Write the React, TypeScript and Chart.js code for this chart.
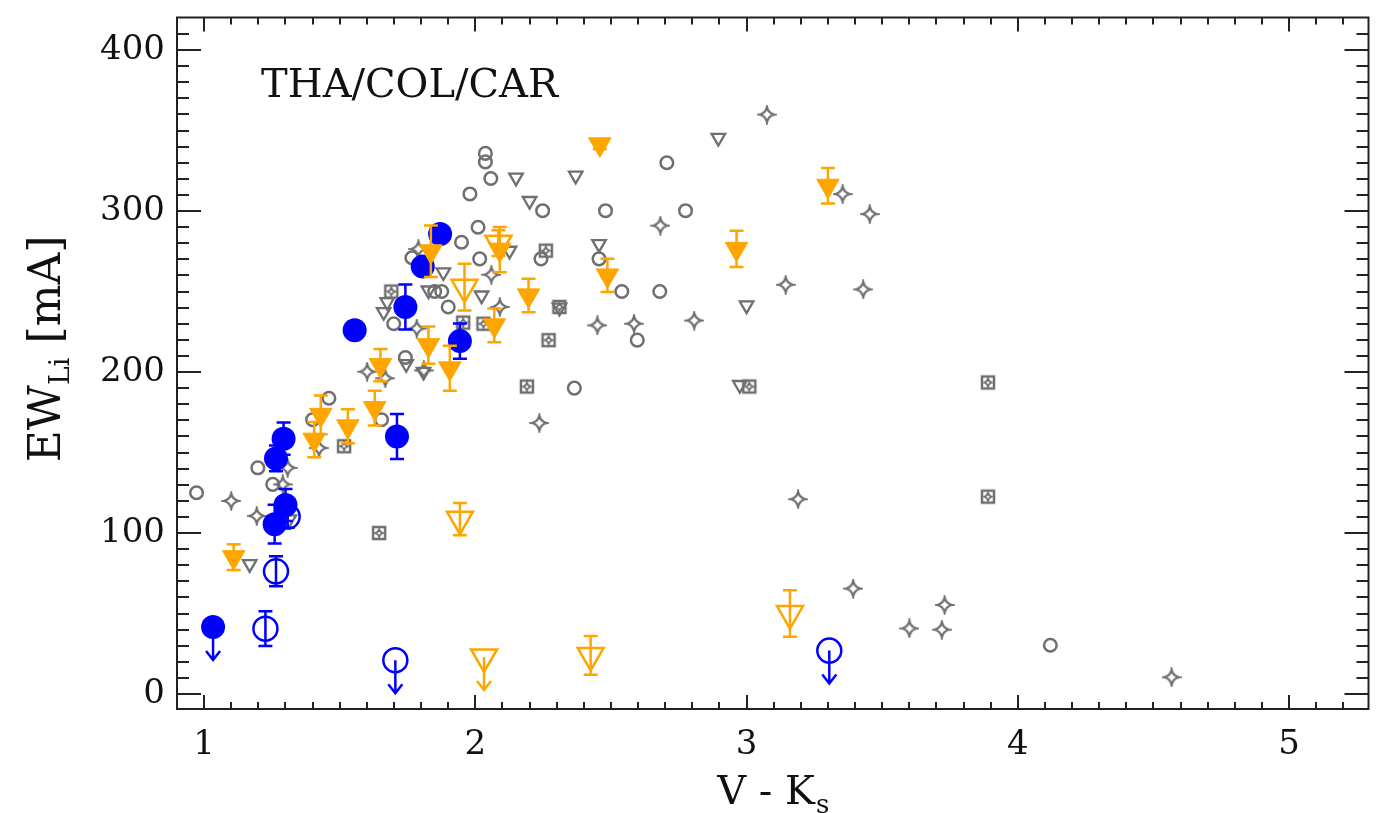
import React, { useEffect, useRef } from "react";
import { Chart, registerables } from "chart.js";

Chart.register(...registerables);

const FONT = '"DejaVu Serif", "Liberation Serif", serif';
const GRAY = "#6f6f6f";
const BLUE = "#0000ff";
const ORANGE = "#ffa500";
const AXIS = "#222222";
const CLEAR = "rgba(0,0,0,0)";

// ---- axes / labels ----
const xTickValues = [1, 2, 3, 4, 5];
const yTickValues = [0, 100, 200, 300, 400];
const xTitleMain = "V - K";
const xTitleSub = "s";
const yTitleMain = "EW";
const yTitleSub = "Li";
const yTitleRest = " [mA]";
const panelLabel = "THA/COL/CAR";

// ---- blue filled circles ----
const blueFilledX = [1.033, 1.265, 1.293, 1.300, 1.260, 1.555, 1.742, 1.711, 1.943, 1.806, 1.870];
const blueFilledY = [41.6, 146.3, 158.6, 117.4, 105.5, 226.0, 240.4, 160.0, 219.2, 265.5, 285.7];
const blueFilledErr = [0, 8, 10, 10, 12, 0, 14, 14, 11, 0, 0];
const blueFilledLimit = [1, 0, 0, 0, 0, 0, 0, 0, 0, 0, 0];

// ---- blue open circles ----
const blueOpenX = [1.226, 1.265, 1.308, 1.705, 3.305];
const blueOpenY = [40.6, 76.2, 110.2, 21.0, 27.0];
const blueOpenErr = [10.8, 9.3, 7, 0, 0];
const blueOpenLimit = [0, 0, 0, 1, 1];

// ---- orange filled triangles ----
const orangeFilledX = [1.109, 1.406, 1.430, 1.530, 1.629, 1.650, 1.827, 1.836, 1.906, 2.070, 2.090, 2.196, 2.459, 2.487, 2.963, 3.300];
const orangeFilledY = [85, 158, 173.4, 166.3, 177.6, 204.3, 216.7, 275, 202.3, 229, 276, 247.6, 341.4, 260, 276.5, 315.7];
const orangeFilledErr = [8, 11, 12, 10.6, 10.8, 10, 11.5, 16, 14, 10.5, 14, 10.4, 3, 10.3, 11.3, 11];

// ---- orange open triangles ----
const orangeOpenX = [1.943, 1.960, 2.085, 2.032, 2.425, 3.160];
const orangeOpenY = [108.6, 252.7, 280, 23, 24, 50];
const orangeOpenErr = [10, 14.5, 8, 0, 12, 14.5];
const orangeOpenLimit = [0, 0, 0, 1, 0, 0];

// ---- gray open circles ----
const grayCircleX = [0.972, 1.198, 1.253, 1.400, 1.460, 1.654, 1.742, 1.699, 1.766, 1.850, 1.876, 1.900, 1.870, 1.949, 1.980, 2.010, 2.016, 2.037, 2.037, 2.057, 2.242, 2.248, 2.365, 2.456, 2.480, 2.540, 2.597, 2.680, 2.706, 2.775, 4.120];
const grayCircleY = [125, 140.5, 130.2, 170.4, 183.7, 170.4, 209, 230, 271, 250, 250, 240.4, 288, 280.6, 310.6, 289.9, 270.3, 335.8, 330.5, 320.2, 270.3, 300.2, 190, 270.3, 300.2, 250, 219.8, 250, 330, 300.2, 30.3];

// ---- gray open down triangles ----
const grayTriX = [1.168, 1.314, 1.662, 1.675, 1.745, 1.809, 1.827, 1.882, 2.023, 2.126, 2.150, 2.200, 2.310, 2.370, 2.456, 2.896, 2.975, 3.000];
const grayTriY = [80.7, 108.6, 237.3, 243.5, 205, 200.2, 250.7, 262, 247.6, 275.4, 320.8, 306.3, 240, 322, 279.5, 345.5, 192, 241.4];

// ---- gray four-point stars ----
const grayStarX = [1.100, 1.194, 1.290, 1.308, 1.424, 1.601, 1.668, 1.784, 1.790, 1.810, 2.059, 2.090, 2.236, 2.450, 2.585, 2.682, 2.807, 3.075, 3.144, 3.190, 3.354, 3.393, 3.430, 3.454, 3.600, 3.720, 3.730, 4.567];
const grayStarY = [119.9, 110.6, 130.2, 140.5, 152.8, 200.2, 196.1, 227, 276.4, 201, 260.4, 240.4, 168.3, 229, 230, 290.9, 232, 359.9, 254.2, 121, 310.5, 65.5, 251.3, 298.1, 40.7, 40, 55.3, 10.4];

// ---- gray boxed symbols ----
const grayBoxX = [1.516, 1.645, 1.690, 1.955, 2.030, 2.190, 2.260, 2.270, 2.310, 3.010, 3.890, 3.890];
const grayBoxY = [153.9, 100, 250, 230.7, 230, 191, 275.4, 219.8, 240.4, 191, 193.5, 122.6];

// label anchor (data coordinates)
const panelLabelX = 1.21;
const panelLabelY = 371;

function makeStar(): HTMLCanvasElement {
  const size = 20;
  const c = document.createElement("canvas");
  c.width = size;
  c.height = size;
  const g = c.getContext("2d")!;
  const m = size / 2;
  const r = 7.5;
  const k = r * 0.18;
  g.strokeStyle = GRAY;
  g.lineWidth = 2.3;
  g.beginPath();
  g.moveTo(m, m - r);
  g.quadraticCurveTo(m + k, m - k, m + r, m);
  g.quadraticCurveTo(m + k, m + k, m, m + r);
  g.quadraticCurveTo(m - k, m + k, m - r, m);
  g.quadraticCurveTo(m - k, m - k, m, m - r);
  g.closePath();
  g.stroke();
  return c;
}

function makeBox(): HTMLCanvasElement {
  const size = 18;
  const c = document.createElement("canvas");
  c.width = size;
  c.height = size;
  const g = c.getContext("2d")!;
  const m = size / 2;
  g.strokeStyle = GRAY;
  g.lineWidth = 2.5;
  g.strokeRect(m - 6, m - 6, 12, 12);
  const r = 4;
  const k = 0.8;
  g.lineWidth = 1.7;
  g.beginPath();
  g.moveTo(m, m - r);
  g.quadraticCurveTo(m + k, m - k, m + r, m);
  g.quadraticCurveTo(m + k, m + k, m, m + r);
  g.quadraticCurveTo(m - k, m + k, m - r, m);
  g.quadraticCurveTo(m - k, m - k, m, m - r);
  g.closePath();
  g.stroke();
  return c;
}

const errorPlugin = {
  id: "errorBars",
  beforeDatasetDraw(chart: any, args: any) {
    const ds: any = chart.data.datasets[args.index];
    if (!ds.errors && !ds.limits) return;
    const ctx = chart.ctx;
    const ys = chart.scales.y;
    ctx.save();
    ctx.strokeStyle = ds.barColor;
    ctx.lineWidth = 2.5;
    ctx.lineCap = "butt";
    args.meta.data.forEach((pt: any, i: number) => {
      const v = ds.data[i].y;
      const err = ds.errors ? ds.errors[i] : 0;
      const px = pt.x;
      if (err > 0) {
        const top = ys.getPixelForValue(v + err);
        const bot = ys.getPixelForValue(v - err);
        ctx.beginPath();
        ctx.moveTo(px, top);
        ctx.lineTo(px, bot);
        ctx.moveTo(px - 7, top);
        ctx.lineTo(px + 7, top);
        ctx.moveTo(px - 7, bot);
        ctx.lineTo(px + 7, bot);
        ctx.stroke();
      }
      if (ds.limits && ds.limits[i]) {
        const y0 = pt.y;
        const y1 = y0 + 33;
        ctx.beginPath();
        ctx.moveTo(px, y0);
        ctx.lineTo(px, y1);
        ctx.moveTo(px - 7, y1 - 9);
        ctx.lineTo(px, y1);
        ctx.lineTo(px + 7, y1 - 9);
        ctx.stroke();
      }
    });
    ctx.restore();
  },
};

const framePlugin = {
  id: "frame",
  afterDraw(chart: any) {
    const ctx = chart.ctx;
    const a = chart.chartArea;
    const xs = chart.scales.x;
    const ys = chart.scales.y;
    ctx.save();
    ctx.strokeStyle = AXIS;
    ctx.lineWidth = 2;
    ctx.strokeRect(a.left, a.top, a.right - a.left, a.bottom - a.top);
    ctx.beginPath();
    for (let k = Math.ceil(xs.min * 10); k <= Math.floor(xs.max * 10); k++) {
      const px = Math.round(xs.getPixelForValue(k / 10));
      if (px <= a.left + 1 || px >= a.right - 1) continue;
      const len = k % 10 === 0 ? 14 : 7;
      ctx.moveTo(px, a.bottom);
      ctx.lineTo(px, a.bottom - len);
      ctx.moveTo(px, a.top);
      ctx.lineTo(px, a.top + len);
    }
    for (let k = Math.ceil(ys.min / 10); k <= Math.floor(ys.max / 10); k++) {
      const py = Math.round(ys.getPixelForValue(k * 10));
      if (py <= a.top + 1 || py >= a.bottom - 1) continue;
      const len = k % 10 === 0 ? 24 : 12;
      ctx.moveTo(a.left, py);
      ctx.lineTo(a.left + len, py);
      ctx.moveTo(a.right, py);
      ctx.lineTo(a.right - len, py);
    }
    ctx.stroke();

    // panel label
    ctx.fillStyle = "#111";
    ctx.font = `40px ${FONT}`;
    ctx.textAlign = "left";
    ctx.textBaseline = "alphabetic";
    ctx.fillText(panelLabel, xs.getPixelForValue(panelLabelX), ys.getPixelForValue(panelLabelY));

    // x title with subscript
    const cx = (a.left + a.right) / 2;
    ctx.font = `40px ${FONT}`;
    const wMain = ctx.measureText(xTitleMain).width;
    ctx.font = `26px ${FONT}`;
    const wSub = ctx.measureText(xTitleSub).width;
    const x0 = cx - (wMain + wSub) / 2;
    const base = 804;
    ctx.font = `40px ${FONT}`;
    ctx.fillText(xTitleMain, x0, base);
    ctx.font = `26px ${FONT}`;
    ctx.fillText(xTitleSub, x0 + wMain + 1, base + 9);

    // y title rotated with subscript
    ctx.save();
    ctx.translate(60, 349);
    ctx.rotate(-Math.PI / 2);
    ctx.font = `44px ${FONT}`;
    const w1 = ctx.measureText(yTitleMain).width;
    const w3 = ctx.measureText(yTitleRest).width;
    ctx.font = `28px ${FONT}`;
    const w2 = ctx.measureText(yTitleSub).width;
    const s = -(w1 + w2 + w3) / 2;
    ctx.font = `44px ${FONT}`;
    ctx.fillText(yTitleMain, s, 0);
    ctx.font = `28px ${FONT}`;
    ctx.fillText(yTitleSub, s + w1, 9);
    ctx.font = `44px ${FONT}`;
    ctx.fillText(yTitleRest, s + w1 + w2, 0);
    ctx.restore();

    ctx.restore();
  },
};

const noPad = (s: any) => {
  s.paddingTop = 0;
  s.paddingBottom = 0;
  s.paddingLeft = 0;
  s.paddingRight = 0;
};

const pts = (xs: number[], ys: number[]) => xs.map((x, i) => ({ x, y: ys[i] }));

export default function App() {
  const ref = useRef<HTMLCanvasElement>(null);
  useEffect(() => {
    const canvas = ref.current!;
    const star = makeStar();
    const box = makeBox();
    const chart = new Chart(canvas, {
      type: "scatter",
      data: {
        datasets: [
          {
            data: pts(orangeFilledX, orangeFilledY),
            pointStyle: "triangle",
            pointRotation: 180,
            pointRadius: 13,
            pointBackgroundColor: ORANGE,
            pointBorderColor: ORANGE,
            pointBorderWidth: 1,
            errors: orangeFilledErr,
            barColor: ORANGE,
          } as any,
          {
            data: pts(orangeOpenX, orangeOpenY),
            pointStyle: "triangle",
            pointRotation: 180,
            pointRadius: 15,
            pointBackgroundColor: CLEAR,
            pointBorderColor: ORANGE,
            pointBorderWidth: 2.5,
            errors: orangeOpenErr,
            limits: orangeOpenLimit,
            barColor: ORANGE,
          } as any,
          {
            data: pts(blueFilledX, blueFilledY),
            pointStyle: "circle",
            pointRadius: 12,
            pointBackgroundColor: BLUE,
            pointBorderColor: BLUE,
            pointBorderWidth: 0,
            errors: blueFilledErr,
            limits: blueFilledLimit,
            barColor: BLUE,
          } as any,
          {
            data: pts(blueOpenX, blueOpenY),
            pointStyle: "circle",
            pointRadius: 12,
            pointBackgroundColor: CLEAR,
            pointBorderColor: BLUE,
            pointBorderWidth: 2.5,
            errors: blueOpenErr,
            limits: blueOpenLimit,
            barColor: BLUE,
          } as any,
          {
            data: pts(grayCircleX, grayCircleY),
            pointStyle: "circle",
            pointRadius: 6.3,
            pointBackgroundColor: CLEAR,
            pointBorderColor: GRAY,
            pointBorderWidth: 2.5,
          },
          {
            data: pts(grayTriX, grayTriY),
            pointStyle: "triangle",
            pointRotation: 180,
            pointRadius: 7.8,
            pointBackgroundColor: CLEAR,
            pointBorderColor: GRAY,
            pointBorderWidth: 2.3,
          },
          {
            data: pts(grayStarX, grayStarY),
            pointStyle: star,
            pointRadius: 8,
          },
          {
            data: pts(grayBoxX, grayBoxY),
            pointStyle: box,
            pointRadius: 8,
          },
        ],
      },
      options: {
        responsive: false,
        animation: false,
        events: [],
        layout: { padding: { left: 0, top: 14, right: 10, bottom: 0 } },
        plugins: { legend: { display: false }, tooltip: { enabled: false } },
        scales: {
          x: {
            type: "linear",
            min: 0.9,
            max: 5.293,
            grid: { display: false, drawTicks: false },
            border: { display: false },
            afterBuildTicks: (s: any) => {
              s.ticks = xTickValues.map((v) => ({ value: v }));
            },
            afterFit: (s: any) => {
              s.height = 104;
              noPad(s);
            },
            ticks: {
              font: { family: FONT, size: 34 },
              color: "#111",
              padding: 16,
              maxRotation: 0,
              autoSkip: false,
              callback: (v: any) => String(v),
            },
          },
          y: {
            type: "linear",
            min: -9.3,
            max: 420.2,
            grid: { display: false, drawTicks: false },
            border: { display: false },
            afterBuildTicks: (s: any) => {
              s.ticks = yTickValues.map((v) => ({ value: v }));
            },
            afterFit: (s: any) => {
              s.width = 177;
              noPad(s);
            },
            ticks: {
              font: { family: FONT, size: 34 },
              color: "#111",
              padding: 12,
              autoSkip: false,
              callback: (v: any) => String(v),
            },
          },
        },
      } as any,
      plugins: [errorPlugin, framePlugin],
    });
    return () => chart.destroy();
  }, []);
  return (
    <canvas
      ref={ref}
      width={1386}
      height={813}
      style={{ position: "absolute", left: 0, top: 0, display: "block" }}
    />
  );
}
